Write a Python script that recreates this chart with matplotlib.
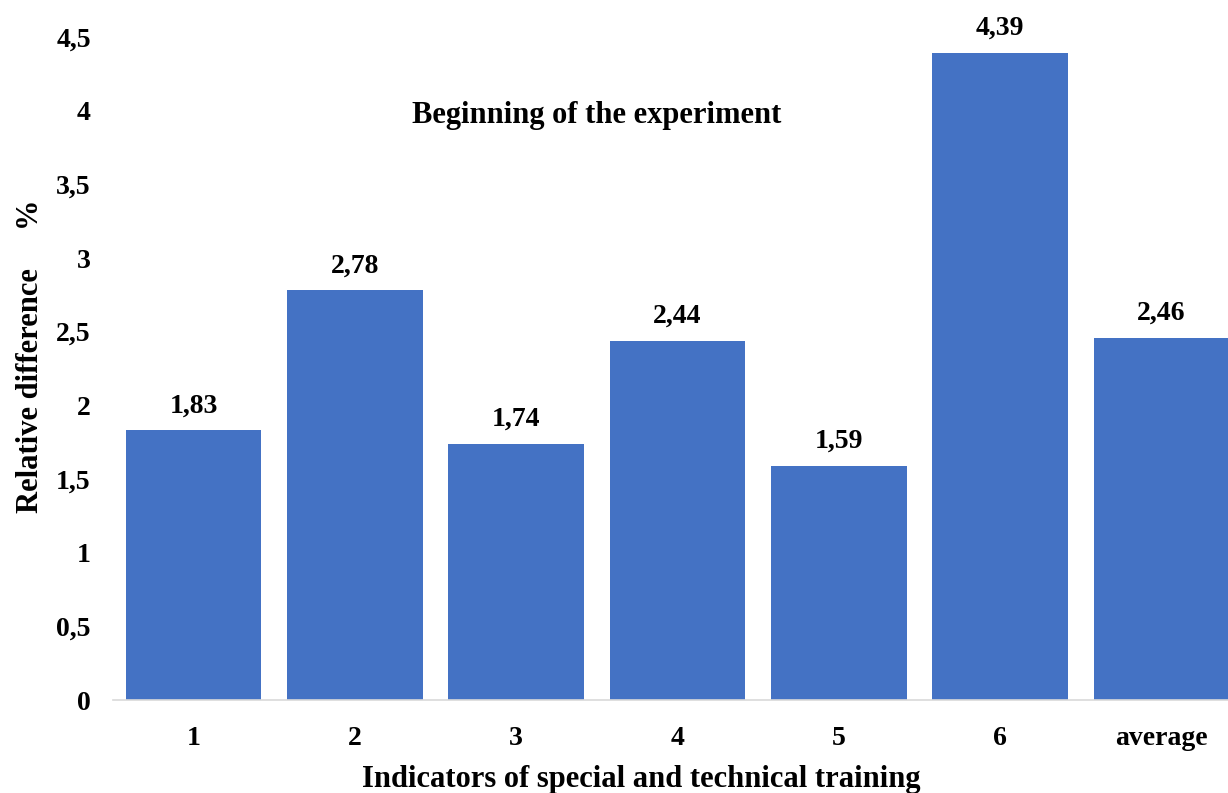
import matplotlib.pyplot as plt

categories = ['1', '2', '3', '4', '5', '6', 'average']
values = [1.83, 2.78, 1.74, 2.44, 1.59, 4.39, 2.46]
value_labels = ['1,83', '2,78', '1,74', '2,44', '1,59', '4,39', '2,46']
yticks = [0, 0.5, 1, 1.5, 2, 2.5, 3, 3.5, 4, 4.5]
ytick_labels = ['0', '0,5', '1', '1,5', '2', '2,5', '3', '3,5', '4', '4,5']

plt.rcParams['font.family'] = ['Liberation Serif', 'DejaVu Serif']
plt.rcParams['font.weight'] = 'bold'

W, H = 1228, 793
fig = plt.figure(figsize=(W / 100, H / 100), dpi=100)
# right edge of the plot area runs past the image, as in the reference
ax = fig.add_axes([113 / W, (H - 700) / H, (1242 - 113) / W, (700 - 37) / H])

x = range(len(categories))
bars = ax.bar(x, values, width=0.84, color='#4472C4')

for b, lab in zip(bars, value_labels):
    ax.annotate(lab, (b.get_x() + b.get_width() / 2, b.get_height()),
                xytext=(0, 13), textcoords='offset points',
                ha='center', va='baseline', fontsize=20, fontweight='bold')

ax.set_xlim(-0.5, 6.5)
ax.set_ylim(0, 4.5)
ax.set_xticks(list(x))
ax.set_xticklabels(categories, fontsize=20, fontweight='bold')
ax.set_yticks(yticks)
ax.set_yticklabels(ytick_labels, fontsize=20, fontweight='bold')
ax.tick_params(axis='both', length=0)
ax.tick_params(axis='x', pad=19)
ax.tick_params(axis='y', pad=16)

for s in ['top', 'right', 'left']:
    ax.spines[s].set_visible(False)
ax.spines['bottom'].set_color('#D9D9D9')
ax.spines['bottom'].set_linewidth(1.2)

ax.text(2.5, 3.965, 'Beginning of the experiment', ha='center', va='center',
        fontsize=22, fontweight='bold')

fig.text(641 / W, 1 - 780 / H, 'Indicators of special and technical training',
         ha='center', va='center', fontsize=22, fontweight='bold')
fig.text(31 / W, 1 - 356 / H, 'Relative difference     %', rotation=90,
         ha='center', va='center', fontsize=22, fontweight='bold')

plt.savefig('out.png', dpi=100)
